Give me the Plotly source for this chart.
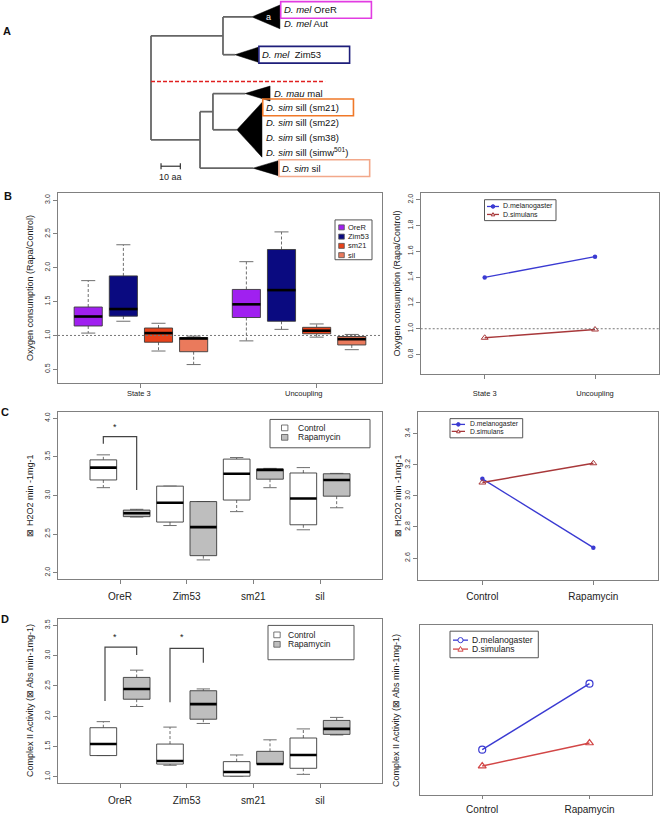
import plotly.graph_objects as go

W, H = 664, 815
FONT = "Liberation Sans, Arial, sans-serif"

# ======================= DATA =======================
# ---- Panel A : collapsed phylogeny (branch lengths in aa) ----
NODE_PARENT = {"mel": "root", "sim": "root", "simA": "sim"}
NODE_BRANCH_AA = {"root": 0.0, "mel": 37.3, "sim": 25.4, "simA": 6.7}
CLADE_PARENT = ["mel", "mel", "simA", "simA", "sim"]
CLADE_STEM_AA = [15.0, 6.2, 16.6, 12.4, 27.5]
CLADE_DEPTH_AA = [14.5, 12.0, 13.0, 13.0, 13.0]
CLADE_LEAVES = [
    ["<i>D. mel</i> OreR", "<i>D. mel</i> Aut"],
    ["<i>D. mel</i>  Zim53"],
    ["<i>D. mau</i> mal"],
    ["<i>D. sim</i> sill (sm21)", "<i>D. sim</i> sill (sm22)",
     "<i>D. sim</i> sill (sm38)", "<i>D. sim</i> sill (simw<sup>501</sup>)"],
    ["<i>D. sim</i> sil"],
]
CLADE_ROWS = [[0.0, 0.93], [3.0], [5.6], [6.53, 7.53, 8.53, 9.53], [10.6]]
CLADE_MARK = ["a", "", "", "", ""]
HIGHLIGHT = {(0, 0): "#e23ce2", (1, 0): "#1e1e7a", (3, 0): "#f07828", (4, 0): "#f2a88a"}
SCALE_AA = 10
SCALE_LABEL = "10 aa"

# ---- Panel B : oxygen consumption (Rapa/Control) ----
B_CONDITIONS = ["State 3", "Uncoupling"]
B_STRAINS = ["OreR", "Zim53", "sm21", "sil"]
B_LOWER = [[1.035, 1.21, 0.77, 0.57], [0.92, 1.09, 0.975, 0.79]]
B_Q1 = [[1.14, 1.285, 0.90, 0.76], [1.265, 1.21, 1.025, 0.86]]
B_MED = [[1.28, 1.39, 1.035, 0.955], [1.46, 1.67, 1.07, 0.945]]
B_Q3 = [[1.42, 1.88, 1.11, 0.97], [1.68, 2.27, 1.12, 0.985]]
B_UPPER = [[1.81, 2.34, 1.18, 0.99], [2.09, 2.53, 1.17, 1.015]]
B_REF = 1.0
SPECIES = ["D.melanogaster", "D.simulans"]
B_MEL = [1.398, 1.559]
B_SIM = [0.93, 0.994]

# ---- Panel C : H2O2 production ----
STRAINS = ["OreR", "Zim53", "sm21", "sil"]
TREATMENTS = ["Control", "Rapamycin"]
C_LOWER = [[3.10, 2.72], [2.61, 2.165], [2.79, 3.10], [2.555, 2.84]]
C_Q1 = [[3.20, 2.725], [2.655, 2.22], [2.94, 3.21], [2.62, 2.99]]
C_MED = [[3.36, 2.77], [2.905, 2.59], [3.28, 3.33], [2.96, 3.20]]
C_Q3 = [[3.46, 2.81], [3.12, 2.92], [3.47, 3.34], [3.29, 3.28]]
C_UPPER = [[3.525, 2.82], [3.12, 2.92], [3.49, 3.35], [3.36, 3.285]]
C_SIG = [(1, 2, 3.67, 3.76, 3.07, 1.35, 3.89)]  # left pos, right pos, yL, ytop, yR, star x, star y
C_MEL = [3.11, 2.667]
C_SIM = [3.086, 3.21]

# ---- Panel D : Complex II activity ----
D_LOWER = [[1.35, 2.16], [1.19, 1.88], [1.01, 1.21], [1.04, 1.69]]
D_Q1 = [[1.35, 2.28], [1.21, 1.95], [1.01, 1.21], [1.14, 1.70]]
D_MED = [[1.54, 2.45], [1.26, 2.20], [1.08, 1.21], [1.36, 1.79]]
D_Q3 = [[1.81, 2.64], [1.54, 2.42], [1.25, 1.42], [1.64, 1.93]]
D_UPPER = [[1.91, 2.76], [1.82, 2.45], [1.36, 1.61], [1.79, 1.98]]
D_SIG = [(1.05, 2, 2.25, 3.14, 3.01, 1.36, 3.30), (3, 4, 2.23, 3.12, 2.88, 3.35, 3.31)]
D_MEL = [1.625, 2.17]
D_SIM = [1.49, 1.68]

# ======================= STYLE / LAYOUT =======================
B_COLORS = ["#a020f0", "#0a0a80", "#e8421a", "#ea7a5c"]
T_COLORS = ["#ffffff", "#bebebe"]
MEL_COL = "#3a3ad2"
SIM_COL_BC = "#a8383a"
SIM_COL_D = "#d24646"
FRAME = "#808080"
BOX_EDGE = "#3a3a3a"
WHISK = "#6e6e6e"
TREE_COL = "#666666"

PX_AA, ROOT_PX, ROW_PX, ROW0_PX, A_BOTTOM = 1.93, 151, 15, 10, 197

PANEL_BOX = {
    1: ((58, 382), (194, 385)),
    2: ((420.7, 659), (194, 376)),
    3: ((58, 382), (414, 581.7)),
    4: ((418, 657.7), (414, 582.7)),
    5: ((58, 382), (622.3, 786.7)),
    6: ((420, 651.7), (628.3, 799.3)),
}
XR = {1: (0.14, 9.36), 2: (0.42, 2.58), 3: (-0.36, 9.36), 4: (0.42, 2.58),
      5: (-0.36, 9.36), 6: (0.42, 2.58)}
YR = {1: (0.296, 3.104), 2: (0.648, 2.052), 3: (1.92, 4.08), 4: (2.46, 3.54),
      5: (0.9, 3.6), 6: (1.248, 2.652)}
YTICKS = {1: [0.5, 1.0, 1.5, 2.0, 2.5, 3.0], 2: [0.8, 1.0, 1.2, 1.4, 1.6, 1.8, 2.0],
          3: [2.0, 2.5, 3.0, 3.5, 4.0], 4: [2.6, 2.8, 3.0, 3.2, 3.4],
          5: [1.0, 1.5, 2.0, 2.5, 3.0, 3.5], 6: []}
B_TICKS = [2.5, 7.5]
B_LABEL_AT = [2.45, 7.15]
STANDOFF = {1: 0, 2: 8, 3: 4, 4: 3, 5: 4, 6: 2}


def refs(i):
    s = "" if i == 1 else str(i)
    return "x" + s, "y" + s, "xaxis" + s, "yaxis" + s


def PX(x):
    return x / W


def PY(y):
    return 1 - y / H


fig = go.Figure()
annotations = []
shapes = []
layout = dict(width=W, height=H, margin=dict(l=0, r=0, t=0, b=0),
              paper_bgcolor="white", plot_bgcolor="rgba(0,0,0,0)", showlegend=False,
              font=dict(family=FONT, size=8, color="#222"))


def note(x, y, text, size, xref="paper", yref="paper", xanchor="center", yanchor="middle",
         color="#222", angle=0):
    annotations.append(dict(x=x, y=y, xref=xref, yref=yref, text=text, showarrow=False,
                            xanchor=xanchor, yanchor=yanchor, textangle=angle, borderpad=0,
                            font=dict(size=size, color=color, family=FONT)))


# ---- axes for plots ----
for i, ((x0, x1), (y0, y1)) in PANEL_BOX.items():
    xa, ya, xk, yk = refs(i)
    xd = dict(domain=[PX(x0), PX(x1)], range=list(XR[i]), anchor=ya, showline=True, mirror=True,
              linecolor=FRAME, linewidth=1, showgrid=False, zeroline=False, ticks="outside",
              ticklen=4, tickcolor=FRAME, tickfont=dict(size=10, color="#222", family=FONT),
              ticklabelstandoff=STANDOFF[i], fixedrange=True)
    yd = dict(domain=[PY(y1), PY(y0)], range=list(YR[i]), anchor=xa, showline=True, mirror=True,
              linecolor=FRAME, linewidth=1, showgrid=False, zeroline=False, ticks="outside",
              ticklen=4, tickcolor=FRAME, tickvals=YTICKS[i], tickformat=".1f", tickangle=-90,
              tickfont=dict(size=7, color="#333", family=FONT), fixedrange=True)
    if i == 1:
        xd.update(tickvals=B_TICKS, showticklabels=False)
    elif i in (3, 5):
        xd.update(tickvals=[1.5 + 2 * k for k in range(len(STRAINS))], ticktext=STRAINS)
    elif i == 2:
        xd.update(tickvals=[1, 2], ticktext=B_CONDITIONS, tickfont=dict(size=7.5, color="#222", family=FONT))
    else:
        xd.update(tickvals=[1, 2], ticktext=TREATMENTS)
    if i == 6:
        yd.update(ticks="", showticklabels=False)
        xd.update(ticklen=3)
    layout[xk] = xd
    layout[yk] = yd

# tree axis (7)
layout["xaxis7"] = dict(domain=[0, 1], range=[-ROOT_PX / PX_AA, (W - ROOT_PX) / PX_AA], anchor="y7",
                        visible=False, fixedrange=True)
layout["yaxis7"] = dict(domain=[PY(A_BOTTOM), 1],
                        range=[(A_BOTTOM - ROW0_PX) / ROW_PX, -ROW0_PX / ROW_PX], anchor="x7",
                        visible=False, fixedrange=True)


def add_line(ax, xs, ys, color, width=1, dash=None, mode="lines", **kw):
    xa, ya, _, _ = refs(ax) if ax != 7 else ("x7", "y7", None, None)
    line = dict(color=color, width=width)
    if dash:
        line["dash"] = dash
    fig.add_trace(go.Scatter(x=xs, y=ys, mode=mode, line=line, xaxis=xa, yaxis=ya,
                             hoverinfo="skip", **kw))


def add_box(ax, pos, lo, q1, med, q3, hi, fill, hw=0.4, cap=0.2):
    add_line(ax, [pos, pos, None, pos, pos], [q3, hi, None, q1, lo], WHISK, 1, "3px,2px")
    add_line(ax, [pos - cap, pos + cap, None, pos - cap, pos + cap], [hi, hi, None, lo, lo], WHISK, 1)
    add_line(ax, [pos - hw, pos + hw, pos + hw, pos - hw, pos - hw], [q1, q1, q3, q3, q1], BOX_EDGE, 0.9,
             fill="toself", fillcolor=fill)
    add_line(ax, [pos - hw, pos + hw], [med, med], "black", 2.6)


# ======================= PANEL A =======================
node_x = {"root": 0.0}
for n in ["mel", "sim", "simA"]:
    node_x[n] = node_x[NODE_PARENT[n]] + NODE_BRANCH_AA[n]
children = {n: [] for n in node_x}
for n, p in NODE_PARENT.items():
    children[p].append(("node", n))
for k, p in enumerate(CLADE_PARENT):
    children[p].append(("clade", k))

clade_tip_x = [node_x[p] + s for p, s in zip(CLADE_PARENT, CLADE_STEM_AA)]
clade_tip_row = [sum(r) / len(r) for r in CLADE_ROWS]


def node_row(n):
    rows = [child_row(c) for c in children[n]]
    return sum(rows) / len(rows)


def child_row(c):
    return clade_tip_row[c[1]] if c[0] == "clade" else node_row(c[1])


def child_x(c):
    return clade_tip_x[c[1]] if c[0] == "clade" else node_x[c[1]]


tx, ty = [], []
for n in node_x:
    if not children[n]:
        continue
    rows = [child_row(c) for c in children[n]]
    tx += [node_x[n], node_x[n], None]
    ty += [min(rows), max(rows), None]
    for c in children[n]:
        tx += [node_x[n], child_x(c), None]
        ty += [child_row(c), child_row(c), None]
add_line(7, tx, ty, TREE_COL, 1.8)

for k in range(len(CLADE_LEAVES)):
    x0 = clade_tip_x[k]
    x1 = x0 + CLADE_DEPTH_AA[k]
    r0, r1 = min(CLADE_ROWS[k]), max(CLADE_ROWS[k])
    pad = 0.5 if len(CLADE_ROWS[k]) == 1 else 0.33
    add_line(7, [x0, x1, x1, x0], [clade_tip_row[k], r0 - pad, r1 + pad, clade_tip_row[k]], "black", 0.5,
             fill="toself", fillcolor="black")
    if CLADE_MARK[k]:
        note(x0 + 0.6 * CLADE_DEPTH_AA[k], clade_tip_row[k], CLADE_MARK[k], 9, "x7", "y7", color="white")
    for j, (lab, row) in enumerate(zip(CLADE_LEAVES[k], CLADE_ROWS[k])):
        note(x1 + 1.5, row, lab, 9.5, "x7", "y7", xanchor="left", color="#111")
        if (k, j) in HIGHLIGHT:
            shapes.append(dict(type="rect", xref="x7", yref="y7", x0=x1 + 0.4, x1=x1 + 0.4 + 47,
                               y0=row - 0.56, y1=row + 0.56,
                               line=dict(color=HIGHLIGHT[(k, j)], width=1.6)))

# red dashed separator
shapes.append(dict(type="line", xref="x7", yref="y7", x0=0, x1=90.2, y0=4.8, y1=4.8,
                   line=dict(color="#e02020", width=1.5, dash="4px,2px")))
# scale bar
sb_x0, sb_row = 5.2, 10.47
add_line(7, [sb_x0, sb_x0 + SCALE_AA, None, sb_x0, sb_x0, None, sb_x0 + SCALE_AA, sb_x0 + SCALE_AA],
         [sb_row, sb_row, None, sb_row - 0.2, sb_row + 0.2, None, sb_row - 0.2, sb_row + 0.2], "#333", 1.2)
note(sb_x0 + SCALE_AA / 2, sb_row + 0.7, SCALE_LABEL, 9, "x7", "y7")

# ======================= PANEL B =======================
for g in range(len(B_CONDITIONS)):
    for s in range(len(B_STRAINS)):
        pos = 1 + s + 4.5 * g
        add_box(1, pos, B_LOWER[g][s], B_Q1[g][s], B_MED[g][s], B_Q3[g][s], B_UPPER[g][s], B_COLORS[s])
for g, lab in enumerate(B_CONDITIONS):
    note(B_LABEL_AT[g], PY(395), lab, 7.5, "x", "paper")
for ax in (1, 2):
    xa, ya, _, _ = refs(ax)
    shapes.append(dict(type="line", xref=xa + " domain", yref=ya, x0=0, x1=1, y0=B_REF, y1=B_REF,
                       line=dict(color="#777", width=1, dash="2px,2px")))

# B right lines
add_line(2, [1, 2], B_MEL, MEL_COL, 1.4, mode="lines+markers",
         marker=dict(symbol="circle", size=4.5, color=MEL_COL))
add_line(2, [1, 2], B_SIM, SIM_COL_BC, 1.4, mode="lines+markers",
         marker=dict(symbol="triangle-up-open", size=6, color=SIM_COL_BC, line=dict(width=1)))

# ======================= PANEL C / D =======================
for ax, (LO, Q1, MED, Q3, UP), sigs in [(3, (C_LOWER, C_Q1, C_MED, C_Q3, C_UPPER), C_SIG),
                                        (5, (D_LOWER, D_Q1, D_MED, D_Q3, D_UPPER), D_SIG)]:
    for s in range(len(STRAINS)):
        for t in range(len(TREATMENTS)):
            add_box(ax, 1 + 2 * s + t, LO[s][t], Q1[s][t], MED[s][t], Q3[s][t], UP[s][t], T_COLORS[t])
    for (xl, xr, yl, yt, yr, sx, sy) in sigs:
        add_line(ax, [xl, xl, xr, xr], [yl, yt, yt, yr], "#444", 1.2)
        xa, ya, _, _ = refs(ax)
        note(sx, sy, "*", 9, xa, ya)

add_line(4, [1, 2], C_MEL, MEL_COL, 1.4, mode="lines+markers",
         marker=dict(symbol="circle", size=4.5, color=MEL_COL))
add_line(4, [1, 2], C_SIM, SIM_COL_BC, 1.4, mode="lines+markers",
         marker=dict(symbol="triangle-up-open", size=6, color=SIM_COL_BC, line=dict(width=1)))
add_line(6, [1, 2], D_MEL, MEL_COL, 1.4, mode="lines+markers",
         marker=dict(symbol="circle-open", size=7, color=MEL_COL, line=dict(width=1.2)))
add_line(6, [1, 2], D_SIM, SIM_COL_D, 1.4, mode="lines+markers",
         marker=dict(symbol="triangle-up-open", size=7, color=SIM_COL_D, line=dict(width=1.2)))


# ======================= LEGENDS (manual, R-style) =======================
def legend_box(x0, y0, x1, y1):
    shapes.append(dict(type="rect", xref="paper", yref="paper", x0=PX(x0), x1=PX(x1), y0=PY(y1), y1=PY(y0),
                       line=dict(color="#555", width=1), fillcolor="white", layer="above"))


def legend_square(x, y, fill, s=3.2):
    shapes.append(dict(type="rect", xref="paper", yref="paper", x0=PX(x - s), x1=PX(x + s),
                       y0=PY(y + s * 0.9), y1=PY(y - s * 0.9), line=dict(color="#555", width=0.8),
                       fillcolor=fill, layer="above"))


# B left
legend_box(335, 221, 372, 261)
for k, name in enumerate(B_STRAINS):
    yy = 228.5 + k * 9.3
    legend_square(341.5, yy, B_COLORS[k], 2.8)
    note(PX(346.5), PY(yy), name, 7.5, xanchor="left")
# C left & D left
for (bx0, by0, bx1, by1, sqx, txx, rows) in [(270, 421.5, 370, 450, 284.7, 297, (430, 439.5)),
                                             (268, 628.5, 354, 663, 277, 287, (638, 647.5))]:
    legend_box(bx0, by0, bx1, by1)
    for t, name in enumerate(TREATMENTS):
        legend_square(sqx, rows[t], T_COLORS[t])
        note(PX(txx), PY(rows[t]), name, 8.5, xanchor="left")


def line_legend(bx0, by0, bx1, by1, lx0, lx1, tx, rows, cols, symbols, msize, fsize):
    legend_box(bx0, by0, bx1, by1)
    for k, name in enumerate(SPECIES):
        yy = rows[k]
        shapes.append(dict(type="line", xref="paper", yref="paper", x0=PX(lx0), x1=PX(lx1), y0=PY(yy), y1=PY(yy),
                           line=dict(color=cols[k], width=1.3), layer="above"))
        cx = (lx0 + lx1) / 2
        r = msize
        if symbols[k] == "tri":
            path = "M {:.5f},{:.5f} L {:.5f},{:.5f} L {:.5f},{:.5f} Z".format(
                PX(cx - r), PY(yy + r * 0.8), PX(cx + r), PY(yy + r * 0.8), PX(cx), PY(yy - r))
            shapes.append(dict(type="path", xref="paper", yref="paper", path=path,
                               line=dict(color=cols[k], width=1), fillcolor="white", layer="above"))
        else:
            shapes.append(dict(type="circle", xref="paper", yref="paper", x0=PX(cx - r), x1=PX(cx + r),
                               y0=PY(yy + r), y1=PY(yy - r), line=dict(color=cols[k], width=1),
                               fillcolor=cols[k] if symbols[k] == "dot" else "white", layer="above"))
        note(PX(tx), PY(yy), name, fsize, xanchor="left")


line_legend(484.5, 200.7, 556, 221.7, 487, 499, 501.5, (207.5, 215.5), (MEL_COL, SIM_COL_BC), ("dot", "tri"), 1.8, 7)
line_legend(450, 420.7, 522.7, 440, 451.7, 465, 469, (426.5, 433.5), (MEL_COL, SIM_COL_BC), ("dot", "tri"), 1.8, 6.8)
line_legend(450, 634.3, 538.3, 661, 453, 468, 471.5, (643.3, 652.3), (MEL_COL, SIM_COL_D), ("open", "tri"), 2.6, 8.6)

# ======================= TEXT: titles & panel letters =======================
YTITLES = [
    (30, 289.5, "Oxygen consumption (Rapa/Control)"),
    (397, 285, "Oxygen consumption (Rapa/Control)"),
    (30, 498, "⊠ H2O2 min -1mg-1"),
    (398, 498, "⊠ H2O2 min -1mg-1"),
    (30, 704.5, "Complex II Activity (⊠ Abs min-1mg-1)"),
    (396.5, 714, "Complex II Activity (⊠ Abs min-1mg-1)"),
]
for x, y, t in YTITLES:
    note(PX(x), PY(y), t, 9, angle=-90)
for x, y, t in [(6.5, 31, "A"), (7.5, 196.5, "B"), (4.5, 414, "C"), (4.5, 622, "D")]:
    note(PX(x), PY(y), "<b>" + t + "</b>", 11, color="#111")

layout["annotations"] = annotations
layout["shapes"] = shapes
fig.update_layout(**layout)
fig.write_html("out.html", config={"displayModeBar": False, "staticPlot": True},
               post_script="document.body.style.margin='0px';document.body.style.overflow='hidden';")
